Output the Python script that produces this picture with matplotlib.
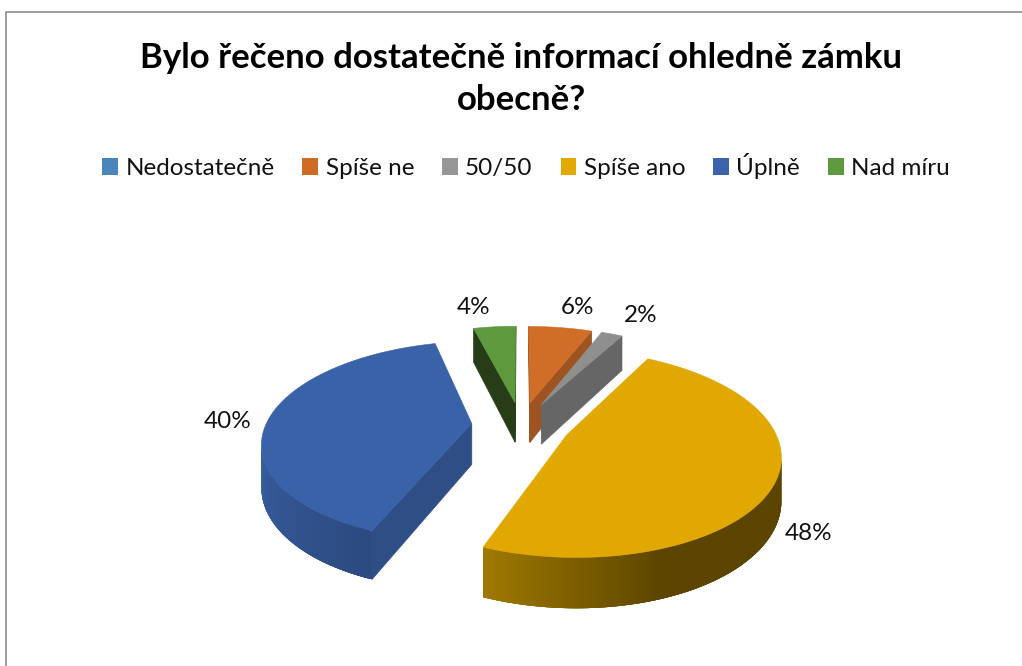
'''
Exploded 3D-looking pie of the answers about the castle information.
'''
import numpy as np
import matplotlib
matplotlib.use("Agg")
import matplotlib.pyplot as plt
from matplotlib.patches import Patch

plt.rcParams['font.family'] = ['Lato', 'DejaVu Sans']

# Data
categories = ["Nedostatečně", "Spíše ne", "50/50", "Spíše ano", "Úplně", "Nad míru"]
values = [0, 6, 2, 48, 40, 4]

# Colours
legend_colors = ["#4A86BC", "#D06B26", "#969696", "#E3A900", "#3B63AB", "#5F993D"]
top_colors = ["#4A86BC", "#D06E28", "#8F8F8F", "#E0A800", "#3A62A8", "#5F993D"]
face_colors = ["#2E5A80", "#9E5420", "#666666", "#8A6800", "#2E4E85", "#263D18"]

# Projection of the pie plane onto the canvas (pixels)
CX, CY = 521, 425
SX, SY = 206, 97
PERSPECTIVE = 0.175
DEPTH = 41
EXPLODE = 0.24


def project(x, y, lowered=False):
    scale = 1 / (1 + PERSPECTIVE * y)
    px = CX + SX * x * scale
    py = CY - SY * y * scale
    if lowered:
        py = py + DEPTH * scale
    return px, py


def side_color(index, theta):
    # outer wall shading changes along the arc
    if index == 3:
        return np.interp(theta, [90, 160, 201.6], [0, 0, 1])
    if index == 4:
        return np.interp(theta, [201.6, 270, 345.6], [0, 1, 1])
    return 0.0


def mix(c1, c2, t):
    a = np.array(matplotlib.colors.to_rgb(c1))
    b = np.array(matplotlib.colors.to_rgb(c2))
    return tuple(a + (b - a) * t)


def wall_faces_viewer(xs, ys):
    # winding test hides the walls that face away
    area = 0.5 * sum(xs[i] * ys[(i + 1) % 4] - xs[(i + 1) % 4] * ys[i] for i in range(4))
    return area < 0


def draw_quad(ax, xs, ys, color, zorder):
    if wall_faces_viewer(xs, ys):
        ax.fill(xs, ys, color=color, lw=0.5, zorder=zorder)


def draw_slice(ax, index, start, end, zorder):
    mid = np.radians((start + end) / 2)
    ox, oy = EXPLODE * np.sin(mid), EXPLODE * np.cos(mid)
    thetas = np.linspace(start, end, max(int(end - start) * 2, 8))
    rx = ox + np.sin(np.radians(thetas))
    ry = oy + np.cos(np.radians(thetas))

    top_x, top_y = project(rx, ry)
    low_x, low_y = project(rx, ry, lowered=True)
    apex_x, apex_y = project(ox, oy)
    apex_lx, apex_ly = project(ox, oy, lowered=True)

    # radial walls
    draw_quad(ax, [apex_x, top_x[0], low_x[0], apex_lx], [apex_y, top_y[0], low_y[0], apex_ly],
              face_colors[index], zorder)
    draw_quad(ax, [top_x[-1], apex_x, apex_lx, low_x[-1]], [top_y[-1], apex_y, apex_ly, low_y[-1]],
              face_colors[index], zorder)

    # outer wall, strip by strip; each strip overlaps the next so no seams show
    n = len(thetas)
    for i in range(n - 1):
        j = min(i + 4, n - 1)
        if not wall_faces_viewer([top_x[i], top_x[i + 1], low_x[i + 1], low_x[i]],
                                 [top_y[i], top_y[i + 1], low_y[i + 1], low_y[i]]):
            continue
        t = side_color(index, thetas[i])
        if index == 3:
            color = mix("#5C4500", "#A07A00", t)
        elif index == 4:
            color = mix("#2C4A80", "#3A62A6", t)
        else:
            color = face_colors[index]
        ax.fill(np.r_[top_x[i:j + 1], low_x[i:j + 1][::-1]], np.r_[top_y[i:j + 1], low_y[i:j + 1][::-1]],
                color=color, lw=0, zorder=zorder + i * 1e-4)

    ax.fill(np.r_[apex_x, top_x], np.r_[apex_y, top_y], color=top_colors[index], lw=0.4, zorder=zorder + 0.5)


fig = plt.figure(figsize=(10.22, 6.66), dpi=100)
ax = fig.add_axes([0, 0, 1, 1])
ax.set_xlim(0, 1022)
ax.set_ylim(666, 0)
ax.axis("off")

# Chart frame, cut at the bottom and the right
ax.plot([5.5, 5.5, 1022], [666, 11.5, 11.5], color="#8C8C8C", lw=1.2, zorder=1)

# Slices
edges = np.cumsum([0] + values) / sum(values) * 360
for z, index in enumerate([5, 1, 2, 4, 3]):
    draw_slice(ax, index, edges[index], edges[index + 1], 2 + z)

# Percent labels
label_positions = {1: (578, 308), 2: (641, 315), 3: (809, 534), 4: (228, 422), 5: (474, 307)}
for index, (lx, ly) in label_positions.items():
    ax.text(lx, ly, f"{values[index]}%", ha="center", va="center", fontsize=17.5, color="#111111", zorder=20)

ax.text(521, 79, "Bylo řečeno dostatečně informací ohledně zámku\nobecně?", ha="center", va="center",
        fontsize=25, fontweight="bold", color="black", linespacing=1.38)

handles = [Patch(facecolor=c, edgecolor="none") for c in legend_colors]
ax.legend(handles, categories, ncol=6, loc="center", bbox_to_anchor=(526 / 1022, 1 - 166 / 666),
          frameon=False, fontsize=17.5, handlelength=0.65, handleheight=0.65, handletextpad=0.3,
          columnspacing=1.15, labelcolor="#111111")

fig.savefig("out.png", dpi=100)
